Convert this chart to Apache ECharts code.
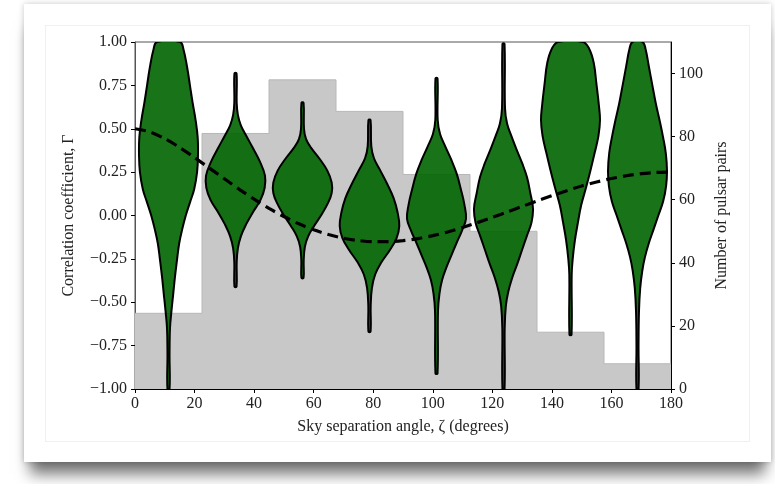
<!DOCTYPE html>
<html>
<head>
<meta charset="utf-8">
<script src="https://cdn.jsdelivr.net/npm/echarts@6/dist/echarts.min.js"></script>
<style>
  body { margin: 0; background: #fff; }
  #card { position: absolute; left: 24px; top: 4px; width: 747px; height: 458px; background: #fff;
          box-shadow: 0 18px 14px -6px rgba(0,0,0,0.55), 0 0 6px rgba(0,0,0,0.22); }
  #panel { position: absolute; left: 45px; top: 25px; width: 703px; height: 415px; border: 1px solid #f0f0f0; }
  #main { position: absolute; left: 0; top: 0; width: 775px; height: 484px; }
</style>
</head>
<body>
<div id="card"></div>
<div id="panel"></div>
<div id="main"></div>
<script>
// pulsar pair counts per 22.5 deg bin (right axis)
var binEdges = [0, 22.5, 45, 67.5, 90, 112.5, 135, 157.5, 180];
var pairCounts = [24, 81, 98, 88, 68, 50, 18, 8];

// Hellings-Downs curve
var hdAngles = [0, 5, 10, 15, 20, 25, 30, 35, 40, 45, 50, 55, 60, 65, 70, 75, 80, 85, 90,
                95, 100, 105, 110, 115, 120, 125, 130, 135, 140, 145, 150, 155, 160, 165, 170, 175, 180];
var hdValues = [0.5, 0.482, 0.443, 0.392, 0.334, 0.273, 0.212, 0.151, 0.094, 0.041, -0.006, -0.048,
                -0.082, -0.110, -0.131, -0.144, -0.151, -0.151, -0.145, -0.133, -0.116, -0.095,
                -0.069, -0.041, -0.011, 0.020, 0.052, 0.084, 0.114, 0.143, 0.170, 0.193, 0.213,
                0.229, 0.241, 0.248, 0.25];

// violins: centre angle, and outline as [gamma, half width in degrees] top to bottom
var violinCenters = [11.25, 33.75, 56.25, 78.75, 101.25, 123.75, 146.25, 168.75];
var violinProfiles = [
  [[1.0,3.9],[0.96,5.0],[0.85,6.3],[0.75,7.2],[0.65,8.1],[0.55,9.1],[0.45,9.8],[0.35,9.9],[0.25,9.6],[0.15,8.6],[0.08,7.3],[0.0,5.8],[-0.08,4.6],[-0.16,3.6],[-0.25,2.9],[-0.35,2.2],[-0.45,1.6],[-0.55,1.0],[-0.65,0.5],[-0.8,0.35],[-1.0,0.35]],
  [[0.82,0.35],[0.65,0.4],[0.58,0.8],[0.52,1.8],[0.46,3.6],[0.39,5.8],[0.31,8.2],[0.23,9.9],[0.16,9.8],[0.09,8.4],[0.02,5.9],[-0.05,3.6],[-0.12,1.8],[-0.19,0.8],[-0.27,0.4],[-0.41,0.35]],
  [[0.65,0.35],[0.5,0.5],[0.44,1.2],[0.39,2.9],[0.33,5.6],[0.26,8.3],[0.19,9.8],[0.13,9.8],[0.07,8.5],[0.0,6.2],[-0.06,3.9],[-0.12,1.9],[-0.18,0.8],[-0.26,0.4],[-0.36,0.35]],
  [[0.55,0.35],[0.40,0.6],[0.33,1.5],[0.26,3.6],[0.18,6.0],[0.10,8.1],[0.02,9.4],[-0.06,10.0],[-0.13,9.1],[-0.20,6.8],[-0.27,4.0],[-0.34,1.9],[-0.42,0.8],[-0.52,0.4],[-0.67,0.35]],
  [[0.79,0.35],[0.55,0.4],[0.47,1.2],[0.40,2.9],[0.32,5.0],[0.24,6.8],[0.15,8.2],[0.06,9.4],[-0.02,9.9],[-0.09,8.5],[-0.16,6.7],[-0.23,5.0],[-0.30,3.3],[-0.37,1.9],[-0.45,1.0],[-0.55,0.5],[-0.91,0.35]],
  [[0.99,0.35],[0.62,0.5],[0.53,1.2],[0.46,2.6],[0.38,4.4],[0.30,6.3],[0.22,7.9],[0.13,9.0],[0.04,9.9],[-0.04,9.4],[-0.12,7.8],[-0.20,6.2],[-0.28,4.6],[-0.36,2.9],[-0.44,1.6],[-0.52,0.8],[-0.65,0.4],[-1.0,0.35]],
  [[1.0,4.2],[0.96,6.3],[0.88,7.8],[0.76,8.7],[0.64,9.5],[0.55,9.9],[0.46,9.4],[0.36,8.1],[0.26,6.7],[0.16,5.2],[0.06,3.6],[-0.04,2.5],[-0.14,1.5],[-0.24,0.8],[-0.34,0.4],[-0.687,0.35]],
  [[1.0,1.7],[0.96,2.7],[0.86,3.8],[0.75,5.0],[0.65,6.1],[0.55,7.4],[0.45,8.6],[0.36,9.5],[0.26,9.9],[0.17,9.6],[0.08,8.6],[0.0,7.0],[-0.08,5.4],[-0.16,3.8],[-0.24,2.5],[-0.32,1.6],[-0.42,0.9],[-0.55,0.5],[-0.75,0.35],[-1.0,0.35]]
];

var rightTicks = [0, 20, 40, 60, 80, 100];

var font = 'Liberation Serif';
var txt = '#222';

var histData = binEdges.map(function (e, i) {
    return [e, i < pairCounts.length ? pairCounts[i] : pairCounts[pairCounts.length - 1]];
});
var hdData = hdAngles.map(function (a, i) { return [a, hdValues[i]]; });

var myChart = echarts.init(document.getElementById('main'));

var option = {
    backgroundColor: 'transparent',
    animation: false,
    grid: {
        left: 135, right: 104, top: 42, bottom: 95,
        show: true, borderColor: '#555', borderWidth: 1
    },
    xAxis: {
        type: 'value', min: 0, max: 180, interval: 20,
        name: 'Sky separation angle, ζ (degrees)',
        nameLocation: 'middle', nameGap: 30,
        nameTextStyle: { fontFamily: font, fontSize: 16, color: txt },
        axisLine: { show: true, onZero: false, lineStyle: { color: '#000', width: 1 } },
        axisTick: { show: true, length: 4, lineStyle: { color: '#000' } },
        axisLabel: { fontFamily: font, fontSize: 16, color: txt, margin: 7 },
        splitLine: { show: false }
    },
    yAxis: [
        {
            type: 'value', min: -1, max: 1, interval: 0.25,
            name: 'Correlation coefficient, Γ',
            nameLocation: 'middle', nameGap: 58, nameRotate: 90,
            nameTextStyle: { fontFamily: font, fontSize: 16, color: txt },
            axisLine: { show: true, onZero: false, lineStyle: { color: '#555' } },
            axisTick: { show: true, length: 4, lineStyle: { color: '#000' } },
            axisLabel: {
                fontFamily: font, fontSize: 16, color: txt, margin: 8,
                formatter: function (v) { return v.toFixed(2).replace('-', '\u2212'); }
            },
            splitLine: { show: false }
        },
        {
            type: 'value', min: 0, max: 110, position: 'right',
            name: 'Number of pulsar pairs',
            nameLocation: 'middle', nameGap: 30, nameRotate: 90,
            nameTextStyle: { fontFamily: font, fontSize: 16, color: txt },
            axisLine: { show: true, onZero: false, lineStyle: { color: '#000' } },
            axisTick: { show: true, length: 4, customValues: rightTicks, lineStyle: { color: '#000' } },
            axisLabel: { fontFamily: font, fontSize: 16, color: txt, margin: 8, customValues: rightTicks },
            splitLine: { show: false }
        }
    ],
    series: [
        // histogram of pairs
        {
            type: 'line', yAxisIndex: 1, step: 'end', z: 1,
            showSymbol: false, silent: true,
            lineStyle: { color: '#b8b8b8', width: 1 },
            areaStyle: { color: '#c8c8c8', opacity: 1 },
            data: histData
        },
        // violins
        {
            type: 'custom', yAxisIndex: 0, z: 2, clip: true,
            encode: { x: 0, y: 1 },
            data: violinCenters.map(function (c, i) { return [c, 0, i]; }),
            renderItem: function (params, api) {
                var c = api.value(0);
                var prof = violinProfiles[api.value(2)];
                var pts = [];
                var k;
                for (k = 0; k < prof.length; k++) pts.push(api.coord([c + prof[k][1], prof[k][0]]));
                for (k = prof.length - 1; k >= 0; k--) pts.push(api.coord([c - prof[k][1], prof[k][0]]));
                return {
                    type: 'polygon',
                    shape: { points: pts, smooth: 0.4 },
                    style: { fill: 'rgba(0,100,0,0.9)', stroke: '#000', lineWidth: 2 }
                };
            }
        },
        // Hellings-Downs
        {
            type: 'line', yAxisIndex: 0, z: 3, smooth: 0.3,
            showSymbol: false, silent: true,
            lineStyle: { color: '#000', width: 3.2, type: [11, 6] },
            data: hdData
        }
    ]
};
myChart.setOption(option, true);
</script>
</body>
</html>
